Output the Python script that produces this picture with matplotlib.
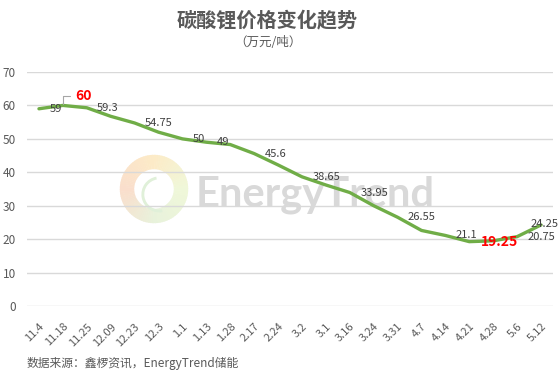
import matplotlib
matplotlib.use("Agg")
import matplotlib.pyplot as plt
from matplotlib.patches import Wedge
import numpy as np

plt.rcParams['font.family'] = ['Noto Sans CJK SC', 'DejaVu Sans']

dates = ['11.4', '11.18', '11.25', '12.09', '12.23', '12.3', '1.1', '1.13', '1.28', '2.17', '2.24',
         '3.2', '3.1', '3.16', '3.24', '3.31', '4.7', '4.14', '4.21', '4.28', '5.6', '5.12']
prices = [59, 60, 59.3, 56.75, 54.75, 52, 50, 49, 48.3, 45.6, 42.2,
          38.65, 36.2, 33.95, 30, 26.55, 22.6, 21.1, 19.25, 19.5, 20.75, 24.25]
# indices that carry a plain label
labeled = [0, 2, 4, 6, 7, 9, 11, 13, 15, 17, 20]
max_i = 1
min_i = 18
last_i = 21

W, H = 558, 377
fig = plt.figure(figsize=(W / 100, H / 100), dpi=100)
L, R, T, B = 27, 553, 72, 306
ax = fig.add_axes([L / W, 1 - B / H, (R - L) / W, (B - T) / H])
ax.set_facecolor('none')
ax.set_zorder(1)

x = np.arange(len(dates))
gray = '#595959'
ax.plot(x, prices, color='#70AD47', lw=2.4, solid_capstyle='round', solid_joinstyle='round', zorder=3)

for i in labeled:
    ax.annotate(str(prices[i]), (x[i], prices[i]), xytext=(7.5, 0), textcoords='offset points',
                ha='left', va='center', fontsize=8, color='#404040', zorder=4)
ax.annotate(str(prices[last_i]), (x[last_i], prices[last_i]), xytext=(-7.5, 0.5), textcoords='offset points',
            ha='left', va='center', fontsize=8, color='#404040', zorder=4)
ax.annotate(str(prices[min_i]), (x[min_i], prices[min_i]), xytext=(8, 0), textcoords='offset points',
            ha='left', va='center', fontsize=10, fontweight='bold', color='#FF0000', zorder=4)
ax.annotate(str(prices[max_i]), (x[max_i], prices[max_i]), xytext=(9, 7), textcoords='offset points',
            ha='left', va='center', fontsize=10, fontweight='bold', color='#FF0000', zorder=4,
            arrowprops=dict(arrowstyle='-', color='#a6a6a6', lw=0.8, shrinkA=2, shrinkB=1,
                            connectionstyle='angle,angleA=0,angleB=90,rad=0'))

ax.set_xlim(-0.5, len(dates) - 0.5)
ax.set_ylim(0, 70)
ax.set_yticks(range(0, 71, 10))
ax.set_xticks(x)
ax.set_xticklabels(dates, rotation=45, ha='right', rotation_mode='anchor')
ax.tick_params(axis='both', length=0, colors=gray, labelsize=8)
ax.tick_params(axis='y', pad=8, labelsize=8.5)
ax.tick_params(axis='x', pad=11)
ax.grid(axis='y', color='#d9d9d9', lw=1)
ax.set_axisbelow(True)
for s in ax.spines.values():
    s.set_visible(False)

# watermark
ax.text((196 - L) / (R - L), (B - 206.7) / (B - T), 'EnergyTrend', transform=ax.transAxes,
        family='Lato', fontweight='bold', fontsize=30, color='#d9d9d9', ha='left', va='baseline', zorder=0)
lg = fig.add_axes([(154 - 36) / W, 1 - (189 + 36) / H, 72 / W, 72 / H])
lg.set_zorder(0)
lg.set_xlim(-1, 1)
lg.set_ylim(-1, 1)
lg.set_aspect('equal')
lg.axis('off')
stops = [(0, (0.94, 0.97, 0.85)), (90, (0.99, 0.92, 0.78)), (180, (0.98, 0.87, 0.80)),
         (270, (0.91, 0.95, 0.86)), (360, (0.94, 0.97, 0.85))]
for a in range(0, 360, 4):
    for (a0, c0), (a1, c1) in zip(stops[:-1], stops[1:]):
        if a0 <= a < a1:
            t = (a - a0) / (a1 - a0)
            col = tuple(c0[k] + (c1[k] - c0[k]) * t for k in range(3))
    lg.add_patch(Wedge((0, 0), 0.95, a, a + 5, width=0.40, color=col, lw=0))
lg.add_patch(Wedge((0.15, -0.15), 0.5, 100, 280, width=0.08, color=(0.88, 0.94, 0.85), lw=0))

fig.text(267 / W, 1 - 20 / H, '碳酸锂价格变化趋势', ha='center', va='center', fontsize=14.5,
         fontweight='bold', color=gray)
fig.text(268 / W, 1 - 43 / H, '（万元/吨）', ha='center', va='center', fontsize=9, color=gray)
fig.text(27 / W, 1 - 363 / H, '数据来源：鑫椤资讯，EnergyTrend储能', ha='left', va='center',
         fontsize=8.5, color=gray)

fig.savefig('out.png', dpi=100)
